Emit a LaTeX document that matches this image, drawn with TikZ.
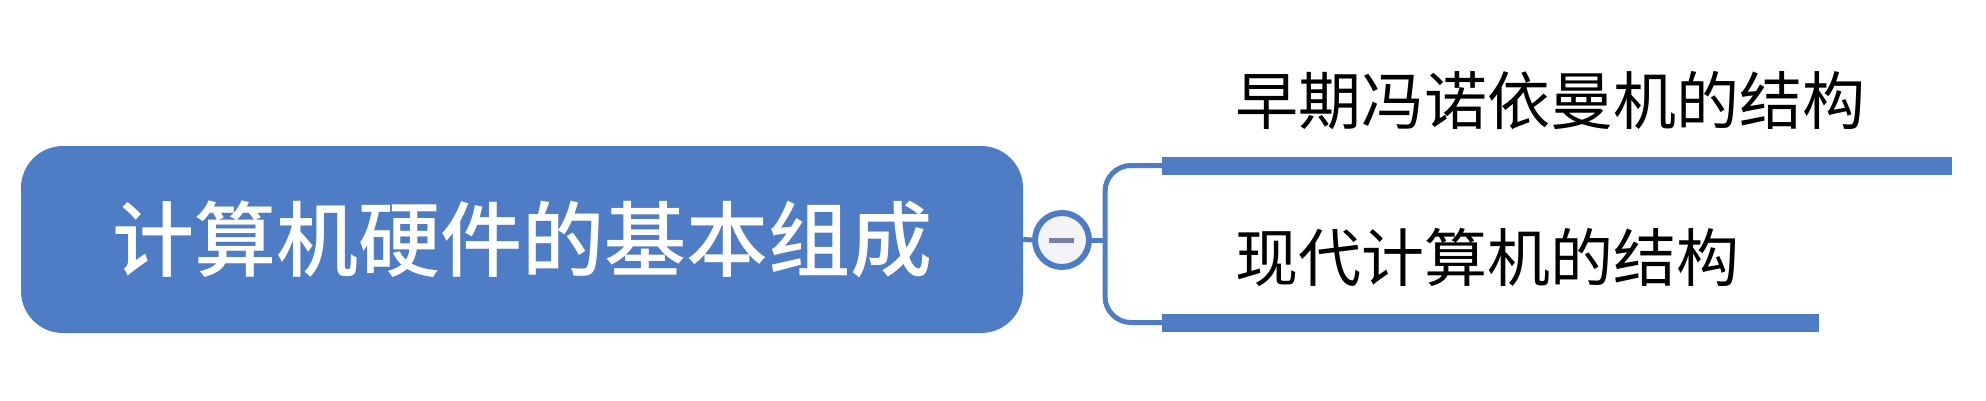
\documentclass[tikz,border=0pt]{standalone}
\usepackage{fontspec}
\newfontfamily\cjk{Noto Sans CJK SC}
\newfontfamily\cjkm{Noto Sans CJK SC Medium}
\definecolor{mblue}{HTML}{4E7DC5}
\definecolor{btnfill}{HTML}{F4F4F8}
\definecolor{minuscol}{HTML}{7A7FA6}
\tikzset{
  mainbox/.style={fill=mblue, draw=none, rounded corners=42pt, minimum width=1002pt, minimum height=187pt, inner sep=0pt,
    text=white, font=\cjkm\fontsize{82}{90}\selectfont},
  btn/.style={circle, draw=mblue, line width=6pt, fill=btnfill, minimum size=54pt, inner sep=0pt},
  conn/.style={draw=mblue, line width=5pt},
  bar/.style={draw=mblue, line width=18pt},
  lbl/.style={anchor=west, inner sep=0pt, text=black, font=\cjk\fontsize{63}{70}\selectfont},
}
\begin{document}
\begin{tikzpicture}[x=1pt,y=-1pt]
\useasboundingbox[fill=white] (0,0) rectangle (1986,400);
\node[mainbox] (main) at (522,239.5) {计算机硬件的基本组成};
\node[btn] (btn) at (1062,240) {};
\coordinate (m1) at (1049,240);
\coordinate (m2) at (1074,240);
\draw[draw=minuscol, line width=5pt] (m1) -- (m2);
\coordinate (j) at (1105,240);
\coordinate (b1s) at (1162,165.5);
\coordinate (b1e) at (1952,165.5);
\coordinate (b2s) at (1162,322.5);
\coordinate (b2e) at (1819,322.5);
\draw[conn] (main.east) -- (btn.west);
\draw[conn] (btn.east) -- (j);
\draw[conn, rounded corners=26pt] (b1s) -| (j) |- (b2s);
\draw[bar] (b1s) -- (b1e);
\draw[bar] (b2s) -- (b2e);
\node[lbl] (l1) at (1235,101) {早期冯诺依曼机的结构};
\node[lbl] (l2) at (1235,257) {现代计算机的结构};
\end{tikzpicture}
\end{document}
